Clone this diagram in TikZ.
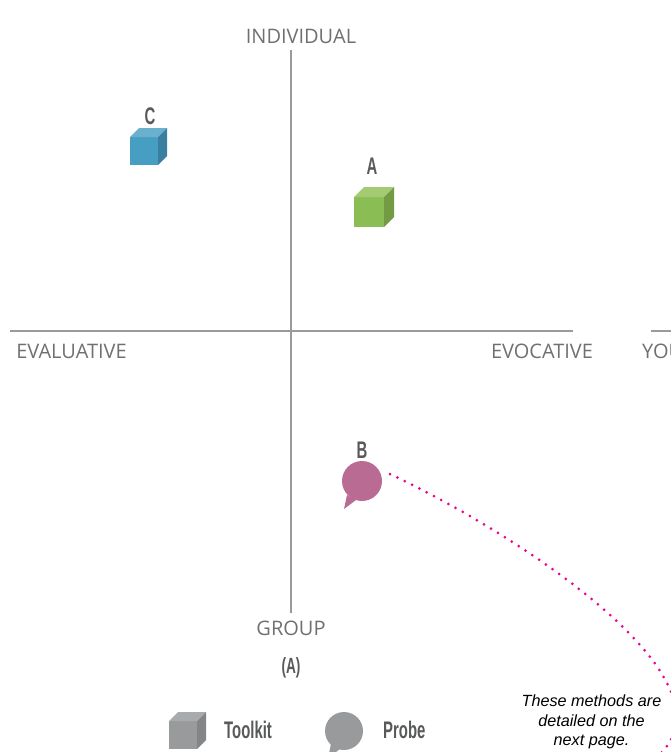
\documentclass[tikz,border=0pt]{standalone}
\usepackage{fontspec}
\setmainfont{Liberation Sans}
\newfontfamily\axisfont{Open Sans}
\newfontfamily\tagfont[FakeStretch=0.62]{Liberation Sans Bold}
\usetikzlibrary{positioning}

\definecolor{axisgray}{HTML}{9A9A9A}
\definecolor{textgray}{HTML}{6F7073}
\definecolor{taggray}{HTML}{58595B}
\definecolor{probepink}{HTML}{B96B93}
\definecolor{legendgray}{HTML}{999A9C}
\definecolor{legendtop}{HTML}{A9AAAC}
\definecolor{legendside}{HTML}{848587}
\definecolor{linkpink}{HTML}{EC008C}
\definecolor{bluefront}{HTML}{469FC3}
\definecolor{bluetop}{HTML}{6BB0CD}
\definecolor{blueside}{HTML}{3A7F9F}
\definecolor{greenfront}{HTML}{8ABD54}
\definecolor{greentop}{HTML}{A4CB74}
\definecolor{greenside}{HTML}{739B44}

\tikzset{
  axis/.style={draw=axisgray, line width=1.6pt},
  axislabel/.style={text=textgray, font=\axisfont\fontsize{20}{20}\selectfont, inner sep=0pt},
  tag/.style={text=taggray, font=\tagfont\fontsize{24}{24}\selectfont, inner sep=0pt},
  link/.style={draw=linkpink, line width=3pt, line cap=round, dash pattern=on 0pt off 8.2pt},
}

% front corner, front size, depth, three face colours
\newcommand{\cubebox}[7]{
  \fill[#5] (#1,#2) rectangle ++(#3,#3);
  \fill[#6] (#1,#2) -- ++(#4,-#4) -- ++(#3,0) -- ++(-#4,#4) -- cycle;
  \fill[#7] (#1+#3,#2) -- ++(#4,-#4) -- ++(0,#3) -- ++(-#4,#4) -- cycle;
}

\begin{document}
\begin{tikzpicture}[x=1pt, y=-1pt]
\path[use as bounding box, clip] (0, 0) rectangle (671, 752);

\coordinate (top) at (291, 50);
\coordinate (bottom) at (291, 613);
\coordinate (left) at (10, 331);
\coordinate (right) at (573, 331);
\coordinate (stub) at (651, 331);
\coordinate (edge) at (671, 331);

\draw[axis] (top) -- (bottom);
\draw[axis] (left) -- (right);
\draw[axis] (stub) -- (edge);

\node[axislabel] (individual) at (301, 36) {INDIVIDUAL};
\node[axislabel] (evaluative) at (71.5, 351) {EVALUATIVE};
\node[axislabel] (evocative) at (542, 351) {EVOCATIVE};
\node[axislabel, anchor=west] (young) at (642, 351) {YOU};
\node[axislabel] (group) at (291, 628) {GROUP};

% methods
\cubebox{130}{137}{28}{9}{bluefront}{bluetop}{blueside}
\node[tag] (c) at (150, 116) {C};
\cubebox{354}{197}{30}{10}{greenfront}{greentop}{greenside}
\node[tag] (a) at (372, 166) {A};

\fill[probepink] (362, 481) circle (20);
\fill[probepink] (347, 495) -- (344, 509) -- (356, 500) -- cycle;
\node[tag] (b) at (362, 450) {B};

% link to the note
\coordinate (linkstart) at (390, 474);
\coordinate (linkend) at (659, 755);
\draw[link] (linkstart) .. controls (520, 535) and (740, 680) .. (linkend);

\node[font=\itshape\fontsize{16.2}{19.5}\selectfont, align=center, inner sep=0pt] (note) at (591.5, 722) {These methods are\\detailed on the\\next page.};

\node[tag, font=\tagfont\fontsize{22}{22}\selectfont] (panel) at (291, 668) {(A)};

% legend
\cubebox{169}{721}{28}{9}{legendgray}{legendtop}{legendside}
\node[tag, anchor=west] (toolkit) at (224, 730) {Toolkit};
\fill[legendgray] (344, 731) circle (19);
\fill[legendgray] (331, 744) -- (328, 758) -- (340, 749) -- cycle;
\node[tag, anchor=west] (probe) at (383, 730) {Probe};
\end{tikzpicture}
\end{document}
